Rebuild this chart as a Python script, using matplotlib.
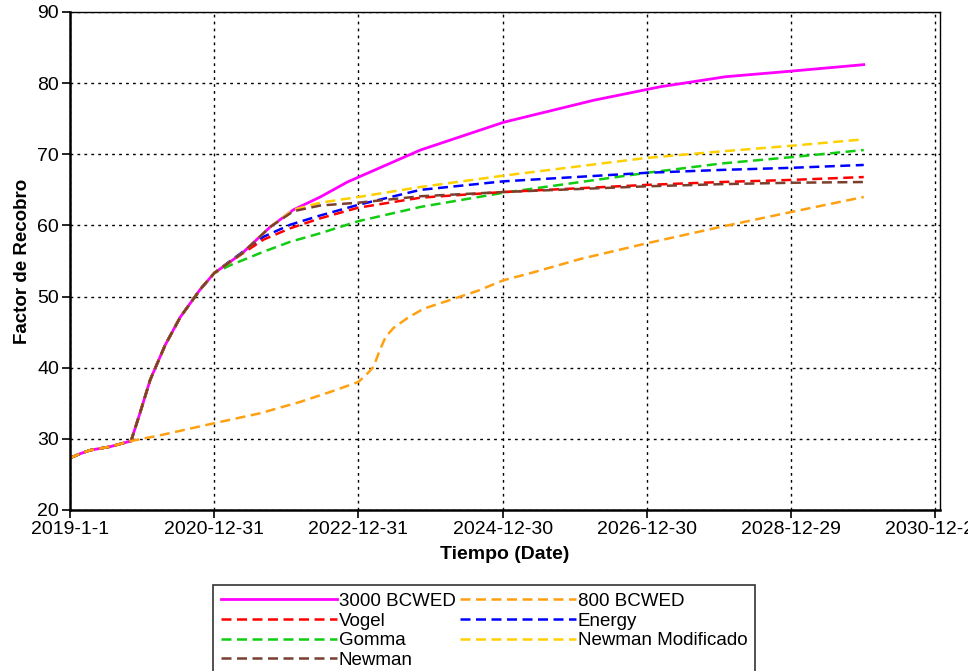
import numpy as np
import pandas as pd
import matplotlib
matplotlib.use("Agg")
import matplotlib.pyplot as plt

plt.rcParams["font.family"] = ["Liberation Sans", "DejaVu Sans"]

# ============================================================
# DATA
# ============================================================

# shared start of every series, before the stimulation kicks in
common_dates = ["2019-01-01", "2019-02-20", "2019-04-12", "2019-07-23", "2019-11-06"]
common_vals = [27.3, 27.9, 28.4, 28.9, 29.7]

# steep rise shared by all 3000 BCWED-based curves
rise_dates = ["2019-12-21", "2020-02-11", "2020-04-27", "2020-07-12",
              "2020-10-21", "2020-12-31"]
rise_vals = [33.6, 38.3, 43.2, 47.1, 51.0, 53.3]

bcwed3000_dates = ["2021-05-22", "2021-10-11", "2022-02-05", "2022-06-21",
                   "2022-11-05", "2023-11-10", "2025-01-04", "2026-04-06",
                   "2027-03-10", "2028-02-01", "2029-01-04", "2030-01-01"]
bcwed3000_vals = [56.1, 59.8, 62.2, 64.0, 66.1, 70.6, 74.5, 77.6,
                  79.5, 80.9, 81.7, 82.6]

model_dates = ["2021-03-22", "2021-09-06", "2022-01-20", "2022-06-21",
               "2022-12-31", "2023-11-10", "2025-01-04", "2027-01-01",
               "2028-01-09", "2029-01-01", "2030-01-01"]
vogel_vals = [54.9, 58.0, 59.6, 61.0, 62.5, 63.9, 64.7, 65.7, 66.1, 66.4, 66.8]
energy_vals = [55.0, 58.4, 60.1, 61.4, 62.9, 65.0, 66.2, 67.4, 67.8, 68.1, 68.5]
gomma_vals = [54.4, 56.3, 57.7, 58.9, 60.6, 62.6, 64.6, 67.4, 68.7, 69.6, 70.6]

# Newman and Newman Modificado follow 3000 BCWED until early 2022
newman_dates = ["2021-05-22", "2021-10-11", "2022-02-05", "2022-06-21",
                "2022-12-31", "2023-11-10", "2025-01-04", "2027-01-01",
                "2028-01-09", "2029-01-01", "2030-01-01"]
newman_vals = [56.1, 59.8, 62.0, 62.8, 63.2, 64.1, 64.7, 65.5, 65.8, 66.0, 66.1]
newman_mod_vals = [56.1, 59.8, 62.2, 63.2, 64.0, 65.4, 67.0, 69.5, 70.4, 71.2, 72.1]

bcwed800_dates = ["2020-04-01", "2020-12-31", "2021-08-21", "2022-03-12",
                  "2022-08-11", "2022-12-31", "2023-02-15", "2023-03-17",
                  "2023-04-16", "2023-05-17", "2023-06-27", "2023-09-06",
                  "2023-11-26", "2024-03-26", "2024-08-25", "2025-01-04",
                  "2025-05-21", "2026-01-30", "2027-01-01", "2028-01-09",
                  "2029-01-01", "2030-01-01"]
bcwed800_vals = [30.5, 32.2, 33.6, 35.2, 36.6, 38.0, 39.2, 40.1,
                 42.3, 44.3, 45.6, 47.0, 48.3, 49.4, 50.8, 52.3,
                 53.3, 55.3, 57.5, 59.8, 61.9, 64.0]

tick_dates = ["2019-01-01", "2020-12-31", "2022-12-31", "2024-12-30",
              "2026-12-30", "2028-12-29", "2030-12-29"]
tick_labels = ["2019-1-1", "2020-12-31", "2022-12-31", "2024-12-30",
               "2026-12-30", "2028-12-29", "2030-12-29"]


def series(*parts):
    dates = []
    vals = []
    for d, v in parts:
        dates += d
        vals += v
    return pd.to_datetime(dates), np.array(vals)


# ============================================================
# FIGURE
# ============================================================

fig = plt.figure(figsize=(9.68, 6.71), dpi=100)
ax = fig.add_axes([70 / 968, 1 - 510 / 671, 870 / 968, 498 / 671])

dash = (0, (4, 2.2))
lw = 1.8

x, y = series((common_dates, common_vals), (rise_dates, rise_vals),
              (bcwed3000_dates, bcwed3000_vals))
l_3000, = ax.plot(x, y, color="#ff00ff", lw=2.0, label="3000 BCWED")

x, y = series((common_dates, common_vals), (rise_dates, rise_vals),
              (model_dates, gomma_vals))
l_gomma, = ax.plot(x, y, color="#11cc11", lw=lw, ls=dash, label="Gomma")

x, y = series((common_dates, common_vals), (rise_dates, rise_vals),
              (model_dates, energy_vals))
l_energy, = ax.plot(x, y, color="#0000ff", lw=lw, ls=dash, label="Energy")

x, y = series((common_dates, common_vals), (rise_dates, rise_vals),
              (model_dates, vogel_vals))
l_vogel, = ax.plot(x, y, color="#ff0000", lw=lw, ls=dash, label="Vogel")

x, y = series((common_dates, common_vals), (rise_dates, rise_vals),
              (newman_dates, newman_mod_vals))
l_nmod, = ax.plot(x, y, color="#ffd000", lw=lw, ls=dash,
                  label="Newman Modificado")

x, y = series((common_dates, common_vals), (rise_dates, rise_vals),
              (newman_dates, newman_vals))
l_newman, = ax.plot(x, y, color="#7b3f2e", lw=lw, ls=dash, label="Newman")

x, y = series((common_dates, common_vals), (bcwed800_dates, bcwed800_vals))
l_800, = ax.plot(x, y, color="#ffa010", lw=lw, ls=dash, label="800 BCWED")

# ============================================================
# AXES STYLE
# ============================================================

ax.set_xlim(pd.Timestamp("2019-01-01"), pd.Timestamp("2031-01-22"))
ax.set_ylim(20, 90)
ax.set_yticks(np.arange(20, 91, 10))
ax.set_xticks(pd.to_datetime(tick_dates))
ax.set_xticklabels(tick_labels)
ax.tick_params(axis="both", labelsize=14, length=6, width=1.2,
               direction="out", pad=2)

ax.grid(True, color="black", ls=(0, (2, 3)), lw=1.0)
for side in ["left", "bottom"]:
    ax.spines[side].set_linewidth(1.8)
for side in ["top", "right"]:
    ax.spines[side].set_linewidth(1.0)

ax.set_xlabel("Tiempo (Date)", fontsize=14, fontweight="bold", labelpad=6)
ax.set_ylabel("Factor de Recobro", fontsize=13.5, fontweight="bold",
              labelpad=4)

handles = [l_3000, l_vogel, l_gomma, l_newman, l_800, l_energy, l_nmod]
leg = fig.legend(
    handles=handles,
    labels=[h.get_label() for h in handles],
    loc="upper left",
    bbox_to_anchor=(213 / 968, 1 - 585 / 671),
    borderaxespad=0.0,
    ncol=2,
    fontsize=13.5,
    handlelength=6.2,
    handletextpad=0.1,
    columnspacing=0.2,
    labelspacing=0.13,
    borderpad=0.42,
    frameon=True,
    fancybox=False,
    framealpha=1.0,
)
leg.get_frame().set_edgecolor("#333333")
leg.get_frame().set_linewidth(1.2)

fig.savefig("out.png", dpi=100)
